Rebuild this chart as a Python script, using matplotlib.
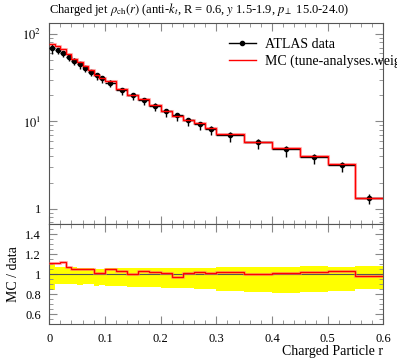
import numpy as np
import matplotlib
matplotlib.use("Agg")
import matplotlib.pyplot as plt
from matplotlib.lines import Line2D
from matplotlib.ticker import FixedLocator, MultipleLocator, LogLocator, NullFormatter

# --- data ---
edges = [0.0, 0.01, 0.02, 0.03, 0.04, 0.05, 0.06, 0.07, 0.08, 0.09, 0.1,
         0.12, 0.14, 0.16, 0.18, 0.2, 0.22, 0.24, 0.26, 0.28, 0.3,
         0.35, 0.4, 0.45, 0.5, 0.55, 0.6]
data = [69.6, 65.1, 60.1, 54.6, 49.5, 45.1, 40.9, 36.8, 34.0, 31.2,
        27.8, 22.9, 20.2, 17.5, 15.2, 13.1, 11.8, 10.3, 9.3, 8.3,
        7.0, 5.83, 4.85, 3.96, 3.19, 1.35]
# relative uncertainties (up / down)
rel_up = [0.103, 0.077, 0.077, 0.073, 0.07, 0.06, 0.06, 0.06, 0.05, 0.057,
          0.06, 0.06, 0.06, 0.063, 0.067, 0.067, 0.067, 0.067, 0.067, 0.067,
          0.07, 0.073, 0.077, 0.083, 0.073, 0.087]
rel_dn = [0.157, 0.097, 0.1, 0.1, 0.097, 0.107, 0.1, 0.097, 0.117, 0.107,
          0.113, 0.113, 0.123, 0.127, 0.13, 0.133, 0.137, 0.14, 0.143, 0.147,
          0.164, 0.174, 0.184, 0.18, 0.164, 0.15]
mc = [77.3, 72.3, 67.7, 58.6, 52.3, 47.5, 42.9, 38.6, 34.4, 31.6,
      29.2, 23.7, 20.3, 18.0, 15.5, 13.3, 11.5, 10.4, 9.49, 8.38,
      7.19, 5.85, 4.93, 4.03, 3.28, 1.32]

edges = np.array(edges)
data = np.array(data)
mc = np.array(mc)
rel_up = np.array(rel_up)
rel_dn = np.array(rel_dn)
centers = 0.5 * (edges[1:] + edges[:-1])
halfw = 0.5 * (edges[1:] - edges[:-1])
ratio = mc / data

plt.rcParams["font.family"] = "serif"
plt.rcParams["font.serif"] = ["Liberation Serif", "DejaVu Serif"]
plt.rcParams["mathtext.fontset"] = "stix"
plt.rcParams["font.size"] = 9

fig = plt.figure(figsize=(3.97, 3.58), dpi=100)
ax = fig.add_axes([0.124, 0.374, 0.8415, 0.562])
rax = fig.add_axes([0.124, 0.094, 0.8415, 0.280], sharex=ax)

# --- main panel ---
ax.stairs(mc, edges, baseline=None, color="#ff8080", lw=2.2, alpha=0.5, zorder=2)
ax.errorbar(centers, data, xerr=halfw, yerr=[data * rel_dn, data * rel_up],
            fmt="o", color="black", ms=3, lw=1.0, capsize=0, zorder=3)
ax.stairs(mc, edges, baseline=None, color="red", lw=1.0, zorder=4)
ax.set_yscale("log")
ax.set_ylim(0.67, 134)
ax.set_xlim(0, 0.6)
ax.yaxis.set_major_locator(FixedLocator([1, 10, 100]))
ax.set_yticklabels(["1", "$10^1$", "$10^2$"])
ax.yaxis.set_minor_locator(LogLocator(base=10, subs=np.arange(2, 10)))
ax.yaxis.set_minor_formatter(NullFormatter())
ax.tick_params(labelbottom=False)

handles = [Line2D([], [], color="black", marker="o", ms=3, lw=1.0),
           Line2D([], [], color="red", lw=1.0)]
labels = ["ATLAS data", "MC (tune-analyses.weight"]
leg = ax.legend(handles, labels, loc="upper left", bbox_to_anchor=(0.52, 0.955),
                frameon=False, fontsize=10, handlelength=2.0,
                borderaxespad=0, handletextpad=0.6, labelspacing=0.3)
for t in leg.get_texts():
    t.set_clip_on(False)

ax.text(0.0, 1.025, r"Charged jet $\rho_{\rm ch}(r)$ (anti-$k_t$, R = 0.6, $y$ 1.5-1.9, $p_\perp$ 15.0-24.0)",
        transform=ax.transAxes, ha="left", va="bottom", fontsize=9)

# --- ratio panel ---
rax.stairs(1 + rel_up, edges, baseline=1 - rel_dn, fill=True,
           color="#ffff00", lw=0, zorder=1)
rax.axhline(1.0, color="#555555", lw=0.8, zorder=2)
rax.stairs(ratio, edges, baseline=None, color="#ff8080", lw=2.2, alpha=0.5, zorder=3)
rax.stairs(ratio, edges, baseline=None, color="red", lw=1.0, zorder=4)
rax.set_ylim(0.5, 1.5)
rax.set_yticks([0.6, 0.8, 1.0, 1.2, 1.4])
rax.set_yticklabels(["0.6", "0.8", "1", "1.2", "1.4"])
rax.yaxis.set_minor_locator(MultipleLocator(0.05))
rax.set_xticks([0, 0.1, 0.2, 0.3, 0.4, 0.5, 0.6])
rax.set_xticklabels(["0", "0.1", "0.2", "0.3", "0.4", "0.5", "0.6"])
rax.xaxis.set_minor_locator(MultipleLocator(0.02))
rax.set_ylabel("MC / data", fontsize=10)
rax.set_xlabel("Charged Particle r", fontsize=10, loc="right", labelpad=0)

for a in (ax, rax):
    a.tick_params(which="both", direction="in", top=True, right=True,
                  color="#888888", pad=6)
    a.tick_params(which="major", length=6)
    a.tick_params(which="minor", length=3)
    for s in a.spines.values():
        s.set_color("#555555")
        s.set_linewidth(0.8)

fig.savefig("out.png", dpi=100)
